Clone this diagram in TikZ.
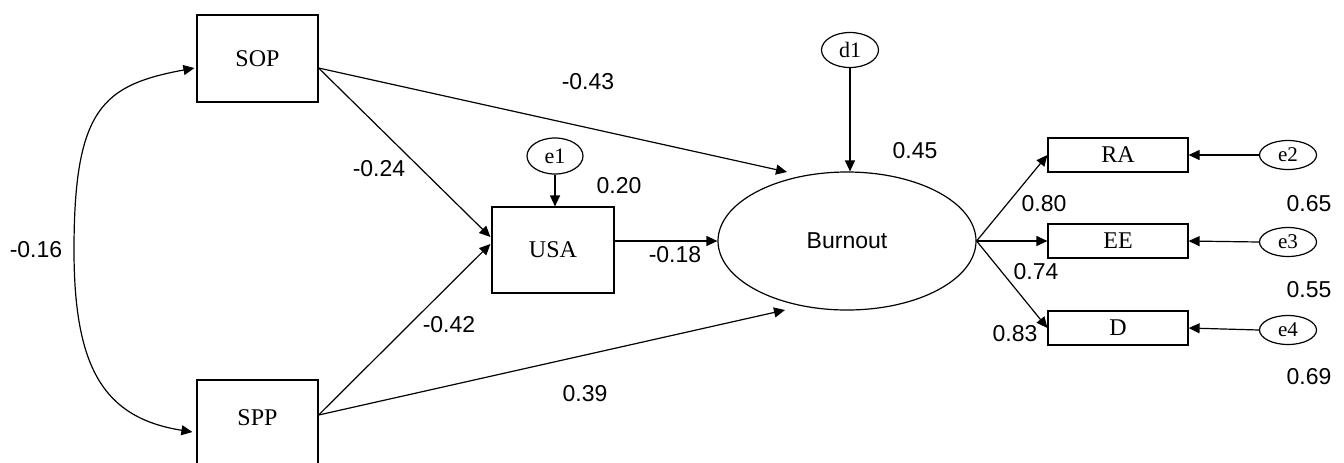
\documentclass[tikz,border=0pt]{standalone}
\usepackage{fontspec}
\setmainfont{Liberation Serif}
\setsansfont{Liberation Sans}
\usetikzlibrary{arrows.meta,calc,shapes.geometric}
\begin{document}
\begin{tikzpicture}[x=0.5pt,y=-0.5pt,
  line width=0.6pt,
  obs/.style={draw,rectangle,inner sep=0pt,font=\fontsize{12}{14}\selectfont},
  lat/.style={draw,ellipse,inner sep=0pt,font=\fontsize{11}{13}\selectfont},
  coef/.style={inner sep=0pt,font=\sffamily\fontsize{11.5}{13}\selectfont},
  arr/.style={-{Triangle[length=5.5pt,width=5pt]}},
  darr/.style={{Triangle[length=5.5pt,width=5pt]}-{Triangle[length=5.5pt,width=5pt]}}]
\useasboundingbox (0,0) rectangle (1344,462);
\clip (0,0) rectangle (1344,462);
% observed boxes
\node[obs,minimum width=60.5pt,minimum height=43.5pt] (SOP) at (257.5,58.5) {SOP};
\node[obs,minimum width=60.5pt,minimum height=43.5pt] (SPP) at (257.5,423.5) {};
\node[font=\fontsize{12}{14}\selectfont] (SPPt) at (257.5,418) {SPP};
\node[obs,minimum width=61pt,minimum height=43pt] (USA) at (553,250) {USA};
\node[draw,ellipse,inner sep=0pt,minimum width=129pt,minimum height=69pt,font=\sffamily\fontsize{11.5}{13}\selectfont] (Bur) at (847,241) {Burnout};
\node[obs,minimum width=70pt,minimum height=17pt] (RA) at (1118,155) {RA};
\node[obs,minimum width=70pt,minimum height=17pt] (EE) at (1118,241) {EE};
\node[obs,minimum width=70pt,minimum height=17pt] (D) at (1118,328) {D};
% error terms
\node[lat,minimum width=28pt,minimum height=18pt] (e1) at (555,156) {e1};
\node[lat,minimum width=28.5pt,minimum height=17.5pt] (d1) at (850,50) {d1};
\node[lat,minimum width=28.5pt,minimum height=14.5pt,font=\fontsize{10.5}{12}\selectfont] (e2) at (1288,155) {e2};
\node[lat,minimum width=28.5pt,minimum height=14.5pt,font=\fontsize{10.5}{12}\selectfont] (e3) at (1288,242) {e3};
\node[lat,minimum width=28.5pt,minimum height=14.5pt,font=\fontsize{10.5}{12}\selectfont] (e4) at (1288,330) {e4};
% anchor points
\coordinate (SOPr) at ($(SOP.east)+(0,9.5)$);
\coordinate (SOPl) at ($(SOP.west)+(-2,9.5)$);
\coordinate (SPPr) at ($(SPP.east)+(0,-8.5)$);
\coordinate (SPPl) at ($(SPP.west)+(-4,8.5)$);
\coordinate (L) at (74,250);
% correlation
\draw[darr] (SPPl) .. controls (105,418) and (74,370) .. (L)
   .. controls (74,108) and (103,85) .. (SOPl);
% paths
\draw[arr] (SOPr) -- ($(USA.west)+(-1,-13)$);
\draw[arr] (SPPr) -- ($(USA.west)+(-1,-6)$);
\draw[arr] (SOPr) -- ($(Bur.center)+(-60,-69)$);
\draw[arr] (SPPr) -- ($(Bur.center)+(-62,69)$);
\draw[arr] (USA.east |- Bur.west) -- (Bur.west);
\draw[arr] (e1.south) -- (e1.south |- USA.north);
\draw[arr] (d1.south) -- (d1.south |- Bur.north);
\draw[arr] (Bur.east) -- (RA.west);
\draw[arr] (Bur.east) -- (EE.west);
\draw[arr] (Bur.east) -- (D.west);
\draw[arr] (e2.west) -- (RA.east);
\draw[arr] (e3.west) -- (EE.east);
\draw[arr] (e4.west) -- (D.east);
% coefficients
\node[coef] (c16) at (36,250) {-0.16};
\node[coef] (c24) at (379,169) {-0.24};
\node[coef] (c42) at (449,325) {-0.42};
\node[coef] (c43) at (588,82) {-0.43};
\node[coef] (c39) at (585,394) {0.39};
\node[coef] (c18) at (675,255) {-0.18};
\node[coef] (c20) at (619,186) {0.20};
\node[coef] (c45) at (915,151) {0.45};
\node[coef] (c80) at (1044,204) {0.80};
\node[coef] (c74) at (1036,272) {0.74};
\node[coef] (c83) at (1015,334) {0.83};
\node[coef] (c65) at (1309,204) {0.65};
\node[coef] (c55) at (1309,290) {0.55};
\node[coef] (c69) at (1309,377) {0.69};
\end{tikzpicture}
\end{document}
